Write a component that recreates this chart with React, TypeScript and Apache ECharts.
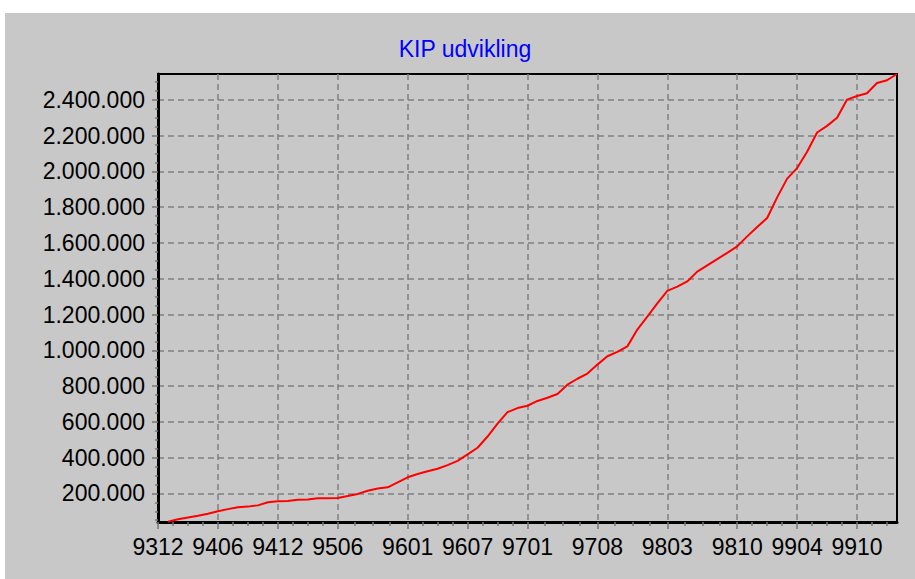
import React, { useEffect, useRef } from "react";
import * as echarts from "echarts";

const chartTitle = "KIP udvikling";
// values per month, first value = 9401 (month 1 after 9312)
const kipValues = [
  42000, 55000, 65000, 75000, 86000, 100000, 112000, 122000, 126000, 133000,
  150000, 156000, 158000, 164000, 166000, 173000, 173000, 174000, 185000, 197000,
  215000, 227000, 234000, 262000, 290000, 308000, 324000, 338000, 358000, 382000,
  418000, 455000, 518000, 590000, 654000, 677000, 690000, 717000, 735000, 756000,
  808000, 841000, 870000, 920000, 967000, 991000, 1022000, 1116000, 1188000, 1262000,
  1332000, 1356000, 1385000, 1440000, 1475000, 1510000, 1545000, 1581000, 1637000, 1690000,
  1740000, 1855000, 1960000, 2019000, 2110000, 2218000, 2255000, 2300000, 2402000, 2422000,
  2437000, 2495000, 2510000, 2545000,
];
const firstDataMonth = 1;
const xTickLabels = ["9312", "9406", "9412", "9506", "9601", "9607", "9701", "9708", "9803", "9810", "9904", "9910"];
const yTickValues = [200000, 400000, 600000, 800000, 1000000, 1200000, 1400000, 1600000, 1800000, 2000000, 2200000, 2400000];
const yMin = 40000;
const yMax = 2545000;
const xMaxMonth = 74;

function monthOffset(p: string): number {
  const yy = parseInt(p.slice(0, 2), 10);
  const mm = parseInt(p.slice(2), 10);
  return (yy - 93) * 12 + mm - 12;
}

function fmtDots(v: number): string {
  return String(Math.round(v)).replace(/\B(?=(\d{3})+(?!\d))/g, ".");
}

export default function App() {
  const ref = useRef<HTMLDivElement>(null);
  useEffect(() => {
    if (!ref.current) return;
    const chart = echarts.init(ref.current, undefined, { renderer: "svg" });
    const majorX = xTickLabels.map(monthOffset);
    const labelByMonth: Record<string, string> = {};
    xTickLabels.forEach((l, i) => (labelByMonth[String(majorX[i])] = l));
    const minorX: number[] = [];
    for (let i = 0; i < majorX.length - 1; i++) {
      const a = majorX[i], b = majorX[i + 1];
      for (let k = 1; k < 4; k++) minorX.push(a + ((b - a) * k) / 4);
    }
    for (let m = majorX[majorX.length - 1] + 1.5; m < xMaxMonth; m += 1.5) minorX.push(m);
    const minorY: number[] = [];
    for (let i = 0; i < yTickValues.length - 1; i++) {
      const a = yTickValues[i], b = yTickValues[i + 1];
      for (let k = 1; k < 4; k++) minorY.push(a + ((b - a) * k) / 4);
    }
    for (let v = yTickValues[0] - 50000; v > yMin; v -= 50000) minorY.push(v);
    for (let v = yTickValues[yTickValues.length - 1] + 50000; v < yMax; v += 50000) minorY.push(v);

    const data = kipValues.map((v, i) => [firstDataMonth + i, v]);
    const font = "Liberation Sans, Arial, sans-serif";

    chart.setOption({
      animation: false,
      backgroundColor: "transparent",
      grid: {
        left: 158,
        top: 74,
        right: 18,
        bottom: 57,
        show: true,
        borderColor: "#000",
        borderWidth: 2,
        backgroundColor: "transparent",
        outerBoundsMode: "none",
        containLabel: false,
      },
      graphic: [
        {
          type: "text",
          x: 465,
          y: 49,
          style: {
            text: chartTitle,
            fill: "#0000ff",
            font: `23px ${font}`,
            align: "center",
            verticalAlign: "middle",
          },
        },
      ],
      xAxis: [
        {
          type: "value",
          min: 0,
          max: xMaxMonth,
          axisLine: { show: true, onZero: false, lineStyle: { color: "#000", width: 3 } },
          axisTick: { show: true, customValues: majorX, length: 7, lineStyle: { color: "#777", width: 1.5 } },
          axisLabel: {
            show: true,
            customValues: majorX,
            formatter: (v: number) => labelByMonth[String(v)] ?? "",
            color: "#000",
            fontFamily: font,
            fontSize: 23,
            margin: 13,
          },
          splitLine: { show: true, lineStyle: { color: "#808080", width: 1.5, type: [6, 4] } },
        },
        {
          type: "value",
          min: 0,
          max: xMaxMonth,
          position: "bottom",
          axisLine: { show: false },
          axisTick: { show: true, customValues: minorX, length: 4, lineStyle: { color: "#777", width: 1.5 } },
          axisLabel: { show: false },
          splitLine: { show: false },
        },
      ],
      yAxis: [
        {
          type: "value",
          min: yMin,
          max: yMax,
          axisLine: { show: true, onZero: false, lineStyle: { color: "#000", width: 3 } },
          axisTick: { show: true, customValues: yTickValues, length: 6, lineStyle: { color: "#777", width: 1.5 } },
          axisLabel: {
            show: true,
            customValues: yTickValues,
            formatter: (v: number) => fmtDots(v),
            color: "#000",
            fontFamily: font,
            fontSize: 23,
            margin: 13,
          },
          splitLine: { show: true, lineStyle: { color: "#808080", width: 1.5, type: [6, 4] } },
        },
        {
          type: "value",
          min: yMin,
          max: yMax,
          position: "left",
          axisLine: { show: false },
          axisTick: { show: true, customValues: minorY, length: 3, lineStyle: { color: "#777", width: 1.5 } },
          axisLabel: { show: false },
          splitLine: { show: false },
        },
      ],
      series: [
        {
          type: "line",
          data,
          xAxisIndex: 0,
          yAxisIndex: 0,
          showSymbol: false,
          symbol: "none",
          lineStyle: { color: "#ff0000", width: 2 },
          itemStyle: { color: "#ff0000" },
          clip: false,
        },
      ],
    });
    return () => chart.dispose();
  }, []);

  return (
    <div style={{ position: "fixed", left: 0, top: 0, width: 915, height: 579, background: "#ffffff" }}>
      <div style={{ position: "absolute", left: 5, top: 13, width: 910, height: 566, background: "#c8c8c8" }} />
      <div ref={ref} style={{ position: "absolute", left: 0, top: 0, width: 915, height: 579 }} />
    </div>
  );
}
